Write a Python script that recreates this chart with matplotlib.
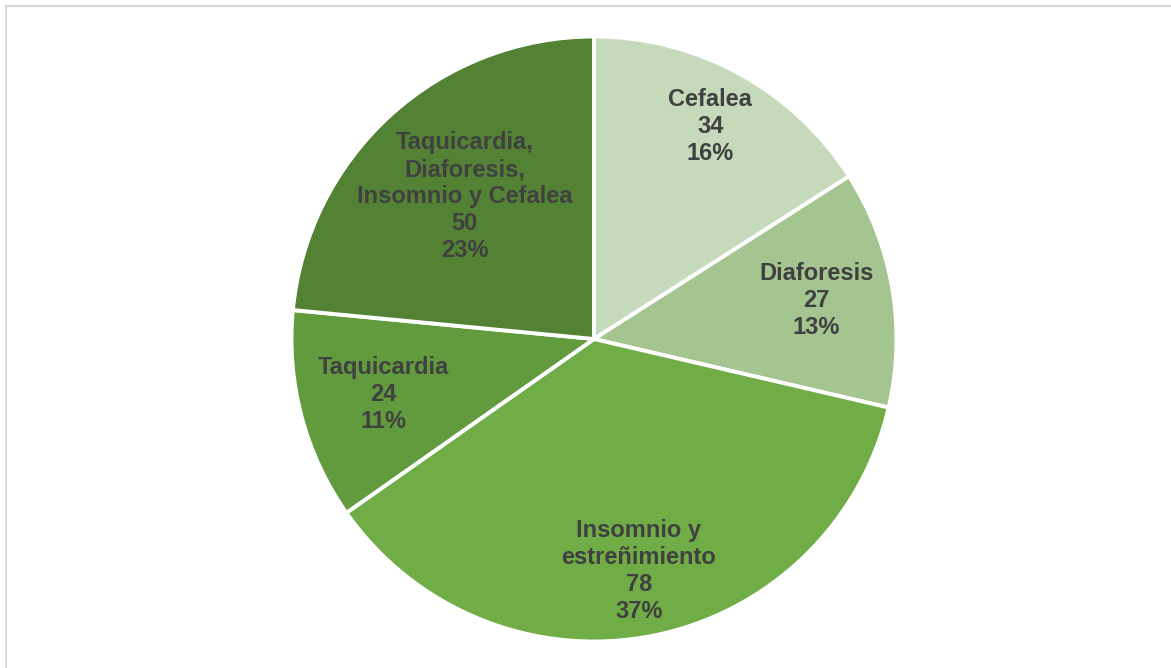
import numpy as np
import matplotlib.pyplot as plt
from matplotlib.patches import Rectangle

plt.rcParams["font.family"] = ["Liberation Sans", "DejaVu Sans"]

categories = [
    "Cefalea",
    "Diaforesis",
    "Insomnio y\nestreñimiento",
    "Taquicardia",
    "Taquicardia,\nDiaforesis,\nInsomnio y Cefalea",
]
counts = [34, 27, 78, 24, 50]
colors = ["#C5D9BB", "#A4C490", "#70AD47", "#629A3E", "#548235"]
# radial position of each label as a fraction of the radius
label_r = [0.80, 0.745, 0.78, 0.72, 0.635]

W, H = 1171, 668
fig = plt.figure(figsize=(W / 100, H / 100), dpi=100)
ax = fig.add_axes([0, 0, 1, 1])

cx, cy, R = 594, H - 339, 302.5
wedges, _ = ax.pie(
    counts,
    colors=colors,
    startangle=90,
    counterclock=False,
    center=(cx, cy),
    radius=R,
    wedgeprops=dict(edgecolor="white", linewidth=2.8),
    frame=True,
)
ax.set_xlim(0, W)
ax.set_ylim(0, H)
ax.set_aspect("equal")
ax.axis("off")

total = sum(counts)
for w, name, n, f in zip(wedges, categories, counts, label_r):
    ang = np.deg2rad((w.theta1 + w.theta2) / 2)
    x = cx + f * R * np.cos(ang)
    y = cy + f * R * np.sin(ang)
    pct = round(100 * n / total)
    ax.text(x, y, f"{name}\n{n}\n{pct}%", ha="center", va="center",
            fontsize=17, fontweight="bold", color="#404040",
            linespacing=1.22)

# chart area border
fig.patches.append(Rectangle((6 / W, -0.01), 1.1, (H - 6) / H + 0.01,
                             transform=fig.transFigure, fill=False,
                             edgecolor="#D9D9D9", linewidth=1.5))

fig.savefig("out.png", dpi=100)
